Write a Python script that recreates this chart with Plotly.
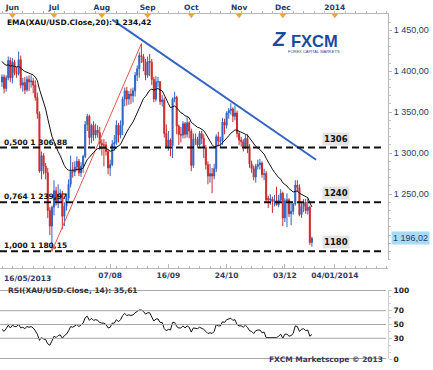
import numpy as np
import pandas as pd
import plotly.graph_objects as go

# ---------------- data ----------------
START = "2013-05-27"
dates = pd.bdate_range(START, "2013-12-20")

opens = [1387,1393,1379,1392,1413, 1392,1411,1398,1397,1414, 1383,1386,1377,1390,1387,
         1388,1383,1368,1348,1278, 1297,1284,1276,1230,1211, 1234,1254,1242,1250,1251,
         1223,1235,1245,1262,1278, 1277,1283,1290,1276,1284, 1296,1335,1345,1319,1334,
         1322,1328,1325,1312,1310, 1310,1302,1282,1286,1311, 1313,1334,1322,1334,1366,
         1376,1366,1372,1370,1376, 1395,1403,1419,1418,1411, 1395,1412,1411,1390,1366,
         1387,1387,1363,1365,1324, 1308,1316,1309,1366,1368, 1333,1323,1322,1336,1323,
         1337,1327,1285,1317,1317, 1310,1324,1318,1307,1286, 1272,1275,1272,1281,1320,
         1314,1315,1338,1334,1349, 1352,1354,1345,1349,1324, 1316,1314,1308,1318,1308,
         1287,1281,1271,1284,1286, 1288,1274,1275,1245,1243, 1244,1241,1242,1237,1243,
         1251,1221,1242,1243,1226, 1229,1238,1261,1258,1225, 1235,1240,1230,1234,1191]
highs = [1396,1396,1395,1418,1417, 1416,1414,1405,1424,1419, 1392,1393,1394,1395,1395,
         1392,1389,1374,1351,1302, 1300,1288,1282,1234,1236, 1267,1259,1262,1256,1254,
         1240,1250,1268,1297,1289, 1290,1296,1293,1289,1298, 1339,1348,1347,1336,1339,
         1336,1334,1332,1317,1317, 1314,1305,1292,1316,1322, 1340,1337,1340,1369,1380,
         1381,1376,1379,1380,1399, 1407,1423,1433.61,1421,1415, 1418,1421,1415,1393,1394,
         1393,1388,1371,1368,1335, 1327,1318,1368,1375,1370, 1335,1332,1339,1338,1344,
         1339,1330,1324,1324,1320, 1327,1327,1323,1310,1290, 1287,1282,1287,1323,1326,
         1320,1343,1342,1351,1355, 1361,1356,1358,1352,1327, 1320,1317,1322,1323,1311,
         1291,1285,1287,1292,1293, 1290,1281,1278,1248,1250, 1247,1249,1259,1249,1256,
         1253,1245,1251,1245,1241, 1239,1267,1267,1262,1240, 1244,1244,1245,1236,1198]
lows = [1381,1373,1375,1389,1387, 1385,1395,1392,1395,1379, 1375,1372,1375,1376,1380,
        1373,1364,1342,1276,1268, 1274,1268,1221,1200,1180.15, 1224,1236,1233,1242,1207,
        1211,1230,1242,1258,1270, 1272,1278,1272,1271,1276, 1294,1327,1310,1312,1315,
        1318,1319,1304,1297,1284, 1297,1274,1272,1284,1303, 1310,1313,1318,1322,1357,
        1358,1359,1360,1362,1369, 1388,1392,1410,1400,1389, 1392,1394,1383,1362,1363,
        1380,1359,1357,1319,1306, 1303,1296,1294,1362,1323, 1310,1313,1318,1318,1319,
        1318,1278,1282,1310,1306, 1308,1311,1294,1280,1262, 1264,1251,1268,1277,1308,
        1306,1310,1323,1330,1342, 1347,1338,1340,1319,1310, 1308,1302,1305,1300,1282,
        1276,1267,1264,1280,1280, 1270,1267,1240,1233,1237, 1227,1235,1236,1234,1241,
        1211,1216,1210,1222,1212, 1225,1236,1253,1223,1221, 1228,1226,1225,1188,1186]
closes = [1393,1379,1392,1413,1392, 1411,1398,1397,1414,1383, 1386,1377,1390,1387,1388,
          1383,1368,1348,1278,1297, 1284,1276,1230,1211,1234, 1254,1242,1250,1251,1223,
          1235,1245,1262,1278,1277, 1283,1290,1276,1284,1296, 1335,1345,1319,1334,1322,
          1328,1325,1312,1310,1310, 1302,1282,1286,1311,1313, 1334,1322,1334,1366,1376,
          1366,1372,1370,1376,1395, 1403,1419,1418,1411,1395, 1412,1411,1390,1366,1387,
          1387,1363,1365,1324,1308, 1316,1309,1366,1368,1333, 1323,1322,1336,1323,1337,
          1327,1285,1317,1317,1310, 1324,1318,1307,1286,1272, 1275,1272,1281,1320,1315,
          1315,1338,1334,1349,1352, 1354,1345,1349,1324,1316, 1314,1308,1318,1308,1287,
          1281,1271,1284,1286,1288, 1274,1275,1243,1243,1244, 1241,1242,1237,1243,1251,
          1221,1242,1243,1226,1229, 1238,1261,1258,1225,1235, 1240,1230,1234,1191,1196.02]
ema20 = [1412.0,1408.9,1407.3,1407.8,1406.3,1406.7,1405.9,1405.1,1405.9,1403.7,
         1402.0,1399.6,1398.7,1397.6,1396.7,1395.4,1392.8,1388.5,1378.0,1370.3,
         1362.1,1353.9,1342.1,1329.6,1320.5,1314.2,1307.3,1301.8,1297.0,1290.0,
         1284.8,1281.0,1279.2,1279.1,1278.9,1279.3,1280.3,1279.9,1280.3,1281.8,
         1286.9,1292.4,1294.9,1298.6,1300.8,1303.4,1305.5,1306.1,1306.5,1306.8,
         1306.3,1304.0,1302.3,1303.1,1304.0,1306.9,1308.3,1310.7,1316.0,1321.7,
         1325.9,1330.3,1334.1,1338.1,1343.5,1349.2,1355.8,1361.7,1366.4,1369.1,
         1373.2,1376.8,1378.1,1376.9,1377.9,1378.8,1377.3,1376.1,1371.1,1365.1,
         1360.4,1355.5,1356.5,1357.6,1355.3,1352.2,1349.3,1348.0,1345.6,1344.8,
         1343.1,1337.6,1335.6,1333.8,1331.5,1330.8,1329.6,1327.4,1323.5,1318.6,
         1314.4,1310.4,1307.6,1308.8,1309.4,1309.9,1312.6,1314.6,1317.9,1321.1,
         1324.2,1326.2,1328.4,1328.0,1326.9,1325.7,1324.0,1323.4,1321.9,1318.6,
         1315.0,1310.8,1308.2,1306.1,1304.4,1301.5,1299.0,1293.7,1288.9,1284.6,
         1280.4,1276.7,1272.9,1270.1,1268.3,1263.8,1261.7,1259.9,1256.7,1254.1,
         1252.6,1253.4,1253.8,1251.1,1249.6,1248.7,1246.9,1245.7,1239.5,1234.42]
rsi14 = [43,40,44,49,45,49,47,47,50,45,
         46,44,47,46,47,45,41,36,27,31,
         29,28,22,20,26,33,31,34,35,30,
         34,36,41,47,46,48,50,47,49,52,
         60,62,56,59,56,57,56,53,52,52,
         50,45,46,52,52,57,54,57,63,66,
         63,64,63,64,67,69,71,71,69,65,
         67,67,61,55,58,58,53,53,44,41,
         43,42,53,53,47,45,45,48,45,48,
         46,39,45,45,44,46,45,43,40,37,
         38,37,40,50,48,48,54,53,57,58,
         59,56,57,50,48,48,46,49,46,41,
         40,37,41,42,42,38,39,31,31,32,
         31,32,31,33,36,30,36,36,33,34,
         37,48,47,40,43,44,41,42,33,35.61]

month_labels = ["Jun", "Jul", "Aug", "Sep", "Oct", "Nov", "Dec", "2014"]
month_dates = ["2013-06-01", "2013-07-01", "2013-08-01", "2013-09-01",
               "2013-10-01", "2013-11-01", "2013-12-01", "2014-01-06"]
date_labels = ["07/08", "16/09", "24/10", "03/12", "04/01/2014"]
date_ticks = ["2013-08-07", "2013-09-16", "2013-10-24", "2013-12-03", "2014-01-04"]
first_date_label = "16/05/2013"
price_ticks = [1250, 1300, 1350, 1400, 1450]
rsi_levels = [0, 30, 50, 70, 100]
fib_ratios = ["0,500", "0,764", "1,000"]
fib_levels = [1306.88, 1239.97, 1180.15]
fib_tags = ["1306", "1240", "1180"]
swing_dates = ["2013-06-28", "2013-08-28"]
swing_prices = [1180.15, 1433.61]
trend_dates = ["2013-08-08", "2013-12-24"]
trend_prices = [1463.0, 1292.0]
last_price = 1196.02
ema_last = 1234.42
rsi_last = 35.61

# ---------------- helpers ----------------
def pos(d):
    return int(np.busday_count(START, d))

def fr(v, nd=2):
    return f"{v:,.{nd}f}".replace(",", " ").replace(".", ",")

xi = [pos(d.strftime("%Y-%m-%d")) for d in dates]

W, H = 433, 370
ML, MR, MT, MB = 0, 45, 14, 11
PW = W - ML - MR          # 388
PH = H - MT - MB          # 345

def px(xpx):
    return xpx / PW

def py(ypx):
    return (H - MB - ypx) / PH

XR = [-2 / 2.08, (PW - 2) / 2.08]
PRICE_RANGE = [1169.6, 1469.8]

NAVY = "#2b3a68"
FONT = "DejaVu Sans"

fig = go.Figure()

fig.add_trace(go.Candlestick(
    x=xi, open=opens, high=highs, low=lows, close=closes,
    increasing=dict(line=dict(color="#2f63c2", width=1), fillcolor="#2f63c2"),
    decreasing=dict(line=dict(color="#cc2a2a", width=1), fillcolor="#cc2a2a"),
    whiskerwidth=0, showlegend=False, hoverinfo="skip",
    xaxis="x", yaxis="y"))

fig.add_trace(go.Scatter(
    x=[pos(d) for d in swing_dates], y=swing_prices, mode="lines",
    line=dict(color="#e8574f", width=1), showlegend=False, hoverinfo="skip",
    xaxis="x", yaxis="y"))

fig.add_trace(go.Scatter(
    x=[pos(d) for d in trend_dates], y=trend_prices, mode="lines",
    line=dict(color="#3465c4", width=2), showlegend=False, hoverinfo="skip",
    xaxis="x", yaxis="y"))

fig.add_trace(go.Scatter(
    x=xi, y=ema20, mode="lines", line=dict(color="#111111", width=1),
    showlegend=False, hoverinfo="skip", xaxis="x2", yaxis="y"))

fig.add_trace(go.Scatter(
    x=[pos(d) for d in month_dates], y=[PRICE_RANGE[1] - 1.5] * len(month_dates),
    mode="markers", marker=dict(symbol="triangle-down", size=6, color="#f0a23c"),
    cliponaxis=False, showlegend=False, hoverinfo="skip", xaxis="x", yaxis="y"))

fig.add_trace(go.Scatter(
    x=xi, y=rsi14, mode="lines", line=dict(color="#111111", width=1),
    showlegend=False, hoverinfo="skip", xaxis="x3", yaxis="y2"))

shapes = []
for lv in fib_levels:
    shapes.append(dict(type="line", xref="x domain", yref="y", x0=0, x1=383 / PW,
                       y0=lv, y1=lv, line=dict(color="#111111", width=2, dash="7px,4px")))
for lv in rsi_levels:
    edge = lv in (0, 100)
    shapes.append(dict(type="line", xref="paper", yref="y2", x0=0, x1=386 / PW,
                       y0=lv, y1=lv,
                       line=dict(color="#8a8a8a" if edge else "#a6a6a6",
                                 width=1.6 if edge else 1)))

ann = []
small = dict(family=FONT, size=7.5, color="#111111")
ann.append(dict(xref="paper", yref="paper", x=px(5), y=py(23), xanchor="left",
                yanchor="middle", showarrow=False,
                text=f"<b>EMA(XAU/USD.Close,20): {fr(ema_last)}</b>", font=small))
for r, lv, tag in zip(fib_ratios, fib_levels, fib_tags):
    ann.append(dict(xref="paper", yref="y", x=px(2), y=lv, xanchor="left",
                    yanchor="bottom", showarrow=False, yshift=-1,
                    text=f"<b>{r} {fr(lv)}</b>", font=small))
    ann.append(dict(xref="paper", yref="y", x=px(336), y=lv, xanchor="center",
                    yanchor="bottom", showarrow=False, yshift=2,
                    bgcolor="#e3e3e3", borderpad=1,
                    text=f"<b>{tag}</b>", font=dict(family=FONT, size=8.5, color="#111111")))
ann.append(dict(xref="paper", yref="y", x=px(391), y=last_price, xanchor="left",
                yanchor="middle", showarrow=False, bgcolor="#a8dcf6", borderpad=1,
                text=fr(last_price), font=dict(family="Liberation Sans", size=9, color=NAVY)))
ann.append(dict(xref="paper", yref="paper", x=px(6), y=py(290), xanchor="left",
                yanchor="middle", showarrow=False,
                text=f"<b>RSI(XAU/USD.Close, 14): {fr(rsi_last)}</b>",
                font=dict(family=FONT, size=7.5, color="#333333")))
ann.append(dict(xref="paper", yref="paper", x=px(385), y=py(359), xanchor="right",
                yanchor="middle", showarrow=False,
                text="<b>FXCM Marketscope © 2013</b>",
                font=dict(family=FONT, size=7.5, color="#3a3a5a")))
ann.append(dict(xref="paper", yref="paper", x=px(2), y=py(278), xanchor="left",
                yanchor="middle", showarrow=False, text=f"<b>{first_date_label}</b>",
                font=dict(family=FONT, size=7.5, color=NAVY)))
# logo
ann.append(dict(xref="paper", yref="paper", x=px(279), y=py(39), xanchor="center",
                yanchor="middle", showarrow=False, text="<b><i>Z</i></b>",
                font=dict(family="Liberation Sans", size=20, color="#1a4c9e")))
ann.append(dict(xref="paper", yref="paper", x=px(314), y=py(41), xanchor="center",
                yanchor="middle", showarrow=False, text="<b>FXCM</b>",
                font=dict(family="Liberation Sans", size=16.5, color="#1a4c9e")))
ann.append(dict(xref="paper", yref="paper", x=px(314), y=py(51), xanchor="center",
                yanchor="middle", showarrow=False, text="FOREX CAPITAL MARKETS",
                font=dict(family="Liberation Sans", size=4, color="#1a4c9e")))

main_dom = [py(260), 1]
rsi_dom = [0, py(290)]

fig.update_layout(
    width=W, height=H, autosize=False,
    margin=dict(l=ML, r=MR, t=MT, b=MB, pad=0),
    paper_bgcolor="white", plot_bgcolor="white",
    font=dict(family=FONT, size=8, color=NAVY),
    showlegend=False, hovermode=False,
    shapes=shapes, annotations=ann,
    xaxis=dict(domain=[0, 1], anchor="y", side="top", range=XR,
               rangeslider=dict(visible=False),
               tickmode="array", tickvals=[pos(d) for d in month_dates],
               ticktext=[f"<b>{m}</b>" for m in month_labels],
               tickfont=dict(family=FONT, size=7.5, color=NAVY),
               ticks="outside", ticklen=0, showgrid=False, zeroline=False,
               showline=True, linecolor="#b8b8b8", linewidth=1,
               minor=dict(ticks="outside", ticklen=2, tickcolor="#b8b8b8",
                          dtick=5, tick0=0, showgrid=False)),
    xaxis2=dict(overlaying="x", matches="x", anchor="free", position=py(268),
                side="bottom", range=XR,
                tickmode="array", tickvals=[pos(d) for d in date_ticks],
                ticktext=[f"<b>{t}</b>" for t in date_labels],
                tickfont=dict(family=FONT, size=7.5, color=NAVY),
                ticks="inside", ticklen=4, tickcolor="#b8b8b8",
                showgrid=False, zeroline=False,
                showline=True, linecolor="#b8b8b8", linewidth=1,
                minor=dict(ticks="inside", ticklen=2, tickcolor="#b8b8b8",
                           dtick=5, tick0=0, showgrid=False)),
    xaxis3=dict(domain=[0, 1], anchor="y2", matches="x", range=XR,
                showticklabels=False, showline=False, showgrid=False,
                zeroline=False, ticks=""),
    yaxis=dict(domain=main_dom, anchor="x", side="right", range=PRICE_RANGE,
               tickmode="array", tickvals=price_ticks,
               ticktext=[fr(v) for v in price_ticks],
               tickfont=dict(family="Liberation Sans", size=9, color=NAVY),
               ticks="outside", ticklen=3, tickcolor="#b8b8b8",
               showgrid=False, zeroline=False,
               showline=True, linecolor="#b8b8b8", linewidth=1,
               minor=dict(ticks="outside", ticklen=2, tickcolor="#c8c8c8",
                          dtick=10, tick0=0, showgrid=False)),
    yaxis2=dict(domain=rsi_dom, anchor="x3", side="right", range=[0, 100],
                tickmode="array", tickvals=rsi_levels,
                ticktext=[f"<b>{v}</b>" for v in rsi_levels],
                tickfont=dict(family=FONT, size=7.5, color="#222222"),
                ticks="outside", ticklen=3, tickcolor="#c8c8c8",
                showgrid=False, zeroline=False,
                showline=True, linecolor="#d0d0d0", linewidth=1,
                minor=dict(ticks="outside", ticklen=2, tickcolor="#d0d0d0",
                           dtick=10, tick0=0, showgrid=False)),
)

fig.write_html("out.html",
               config={"displayModeBar": False, "staticPlot": True},
               post_script="document.body.style.margin='0px';"
                           "document.body.style.overflow='hidden';")
